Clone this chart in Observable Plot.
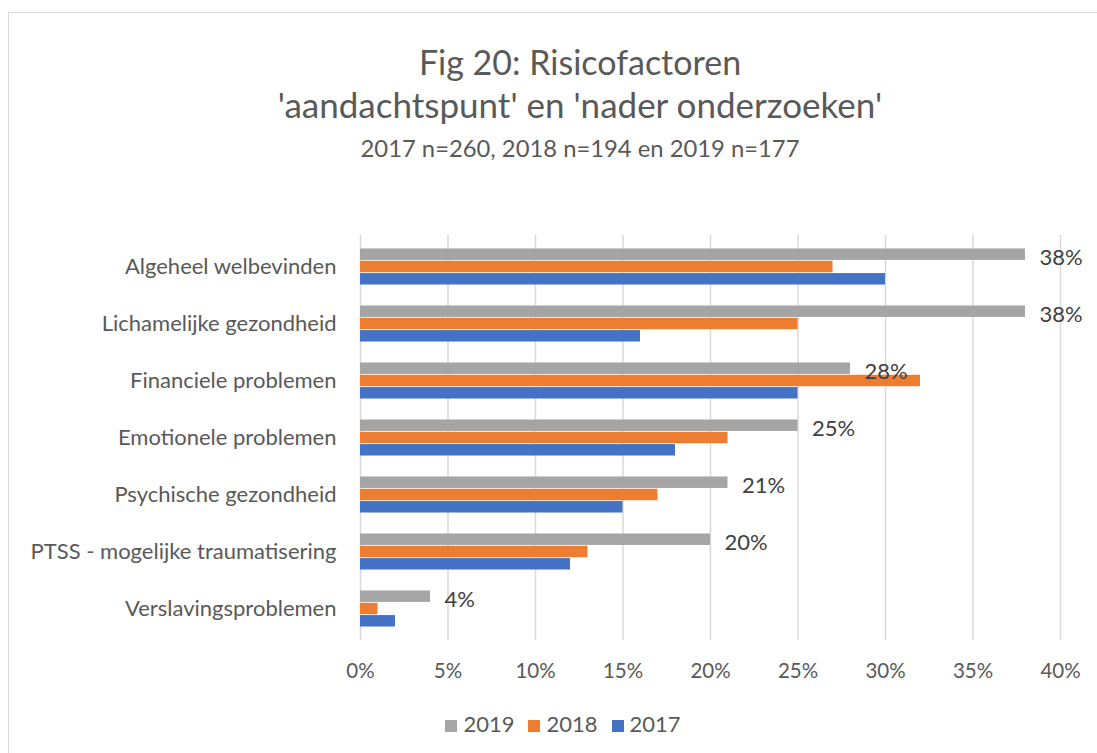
<!DOCTYPE html>
<html>
<head>
<meta charset="utf-8">
<script src="https://cdn.jsdelivr.net/npm/d3@7"></script>
<script src="https://cdn.jsdelivr.net/npm/@observablehq/plot@0.6"></script>
<style>
  html, body { margin: 0; padding: 0; background: #fff; overflow: hidden; }
  body { width: 1097px; height: 753px; position: relative; font-family: Lato, "Open Sans", sans-serif; }
  #frame { position: absolute; left: 8px; top: 12px; width: 1200px; height: 900px; border: 1.5px solid #D9D9D9; box-sizing: border-box; }
  #title { position: absolute; left: 0; width: 1160px; top: 40px; text-align: center; color: #595959; }
  #title .t { font-size: 34px; line-height: 43px; }
  #title .t2 { font-size: 35px; }
  #title .s { font-size: 23.8px; line-height: 30px; margin-top: 7px; }
  #chart { position: absolute; left: 0; top: 200px; }
  #legend { position: absolute; top: 710px; left: 0; width: 1126px; text-align: center; font-size: 22px; color: #595959; }
  #legend span.item { display: inline-block; margin: 0 7px; }
  #legend span.sw { display: inline-block; width: 12px; height: 12px; margin-right: 6px; vertical-align: 0px; }
</style>
</head>
<body>
<div id="frame"></div>
<div id="title">
  <div class="t">Fig 20: Risicofactoren</div>
  <div class="t t2">'aandachtspunt' en 'nader onderzoeken'</div>
  <div class="s">2017 n=260, 2018 n=194 en 2019 n=177</div>
</div>
<div id="chart"></div>
<div id="legend"></div>
<script>
const categories = [
  "Algeheel welbevinden",
  "Lichamelijke gezondheid",
  "Financiele problemen",
  "Emotionele problemen",
  "Psychische gezondheid",
  "PTSS - mogelijke traumatisering",
  "Verslavingsproblemen"
];
const years = ["2019", "2018", "2017"];
const values2019 = [0.38, 0.38, 0.28, 0.25, 0.21, 0.20, 0.04];
const values2018 = [0.27, 0.25, 0.32, 0.21, 0.17, 0.13, 0.01];
const values2017 = [0.30, 0.16, 0.25, 0.18, 0.15, 0.12, 0.02];
const colors = ["#A5A5A5", "#ED7D31", "#4472C4"];
const xTicks = [0, 0.05, 0.10, 0.15, 0.20, 0.25, 0.30, 0.35, 0.40];

const series = [values2019, values2018, values2017];
const rows = [];
years.forEach((yr, i) => categories.forEach((c, j) => rows.push({category: c, year: yr, value: series[i][j]})));

const mTop = 35, plotH = 405, mBottom = 50;
const step = plotH / categories.length;
const barH = 12.3;
const offsets = [-barH, 0, barH];

const marks = [Plot.gridX(xTicks, {stroke: "#D9D9D9", strokeOpacity: 1, strokeWidth: 1.5})];
years.forEach((yr, i) => {
  marks.push(Plot.barX(rows.filter(d => d.year === yr), {
    x: "value", y: "category", fill: colors[i],
    insetTop: (step - barH)/2, insetBottom: (step - barH)/2, dy: offsets[i]
  }));
});
marks.push(Plot.text(rows.filter(d => d.year === "2019"), {
  x: "value", y: "category", text: d => d3.format(".0%")(d.value),
  dx: 14, dy: offsets[0] + 3, textAnchor: "start", fill: "#404040", fontSize: 22
}));

const chart = Plot.plot({
  width: 1097,
  height: mTop + plotH + mBottom,
  marginTop: mTop,
  marginBottom: mBottom,
  marginLeft: 360,
  marginRight: 37,
  style: {fontFamily: "Lato, 'Open Sans', sans-serif", fontSize: "20.5px", color: "#595959", background: "transparent"},
  x: {domain: [0, 0.4], ticks: xTicks, tickFormat: d3.format(".0%"), tickSize: 0, tickPadding: 23, label: null},
  y: {domain: categories, padding: 0, tickSize: 0, tickPadding: 24, label: null},
  marks
});
chart.querySelectorAll("g[aria-label='y-axis tick label']").forEach(el => el.setAttribute("font-size", "22px"));
document.getElementById("chart").appendChild(chart);

const leg = document.getElementById("legend");
years.forEach((yr, i) => {
  const it = document.createElement("span");
  it.className = "item";
  const sw = document.createElement("span");
  sw.className = "sw";
  sw.style.background = colors[i];
  it.appendChild(sw);
  it.appendChild(document.createTextNode(yr));
  leg.appendChild(it);
});
</script>
</body>
</html>
